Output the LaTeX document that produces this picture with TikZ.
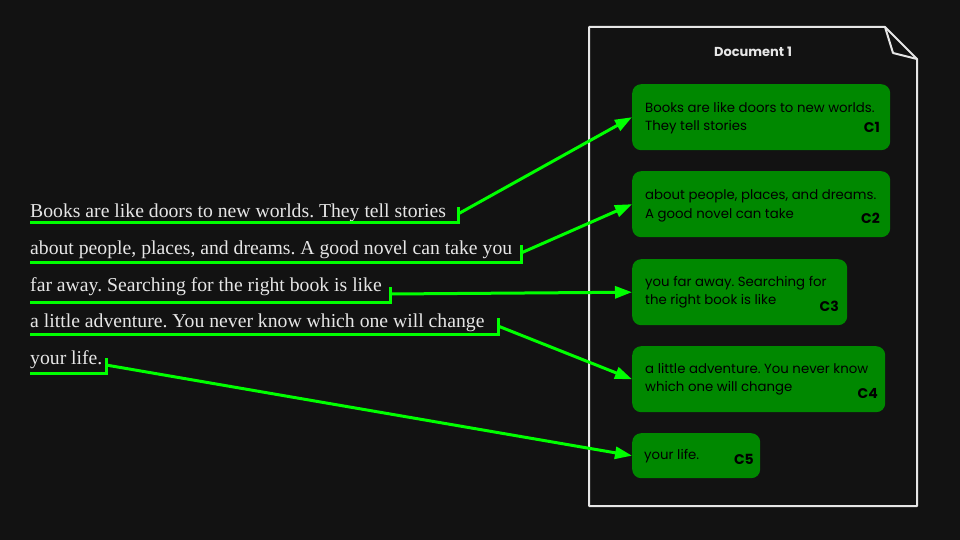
\documentclass[tikz,border=0pt]{standalone}
\usepackage{fontspec}
\setmainfont{Liberation Serif}
\newfontfamily\pop{Poppins}
\usetikzlibrary{arrows.meta}
\definecolor{bg}{HTML}{121212}
\definecolor{neon}{HTML}{00FF00}
\definecolor{boxg}{HTML}{008800}
\definecolor{paper}{HTML}{E6E6E6}
\frenchspacing
\begin{document}
\begin{tikzpicture}[x=1pt,y=-1pt,
  uline/.style={neon, line width=3pt},
  link/.style={neon, line width=3pt, -{Triangle[length=17pt,width=12pt]}},
  src/.style={anchor=base west, inner sep=0pt, text=paper, font=\fontsize{19.7}{19.7}\selectfont},
  chunk/.style={fill=boxg, rounded corners=9pt, anchor=north west, inner sep=0pt},
  ctext/.style={anchor=base west, inner sep=0pt, align=left, text=black, font=\pop\fontsize{13.3}{18}\selectfont},
  clabel/.style={anchor=base east, inner sep=0pt, text=black, font=\pop\bfseries\fontsize{14}{14}\selectfont},
  docline/.style={paper, line width=2pt, line join=round}
]
\useasboundingbox (0,0) rectangle (960,540);
\fill[bg] (0,0) rectangle (960,540);

% source text
\node[src] (t1) at (30,217) {Books are like doors to new worlds. They tell stories};
\node[src] (t2) at (30,254) {about people, places, and dreams. A good novel can take you};
\node[src] (t3) at (30,291) {far away. Searching for the right book is like};
\node[src] (t4) at (30,327) {a little adventure. You never know which one will change};
\node[src] (t5) at (30,364) {your life.};

% underlines with ticks
\draw[uline] (30,222) -- (458,222) -- (458,207);
\draw[uline] (30,262) -- (521,262) -- (521,245);
\draw[uline] (30,302) -- (390,302) -- (390,287);
\draw[uline] (30,334) -- (498,334) -- (498,318);
\draw[uline] (30,373) -- (106,373) -- (106,358);
\coordinate (s1) at (458,214);
\coordinate (s2) at (521,253);
\coordinate (s3) at (390,294);
\coordinate (s4) at (498,326);
\coordinate (s5) at (106,365);

% document
\draw[docline] (589,27) -- (885,27) -- (917,59) -- (917,506) -- (589,506) -- cycle;
\draw[docline] (885,27) -- (893,53) -- (917,59);
\node[anchor=base, inner sep=0pt, text=paper, font=\pop\bfseries\fontsize{13}{13}\selectfont] (doc) at (753,57) {Document 1};

% chunks (text node anchored at baseline of its last line)
\node[chunk, minimum width=258pt, minimum height=66pt] (c1) at (632,84) {};
\node[ctext] (c1t) at (645,131) {Books are like doors to new worlds.\\They tell stories};
\node[clabel] (c1l) at (880,133) {C1};

\node[chunk, minimum width=258pt, minimum height=66pt] (c2) at (632,171) {};
\node[ctext] (c2t) at (645,218) {about people, places, and dreams.\\A good novel can take};
\node[clabel] (c2l) at (880,223) {C2};

\node[chunk, minimum width=215pt, minimum height=66pt] (c3) at (632,259) {};
\node[ctext] (c3t) at (645,304) {you far away. Searching for\\the right book is like};
\node[clabel] (c3l) at (839,311) {C3};

\node[chunk, minimum width=253pt, minimum height=66pt] (c4) at (632,346) {};
\node[ctext] (c4t) at (645,391) {a little adventure. You never know\\which one will change};
\node[clabel] (c4l) at (878,398) {C4};

\node[chunk, minimum width=128pt, minimum height=45pt] (c5) at (632,433) {};
\node[ctext] (c5t) at (644,459) {your life.};
\node[clabel] (c5l) at (754,464) {C5};

% links
\draw[link] (s1) -- (c1.west);
\draw[link] (s2) -- (c2.west);
\draw[link] (s3) -- (c3.west);
\draw[link] (s4) -- (c4.west);
\draw[link] (s5) -- (c5.west);
\end{tikzpicture}
\end{document}
